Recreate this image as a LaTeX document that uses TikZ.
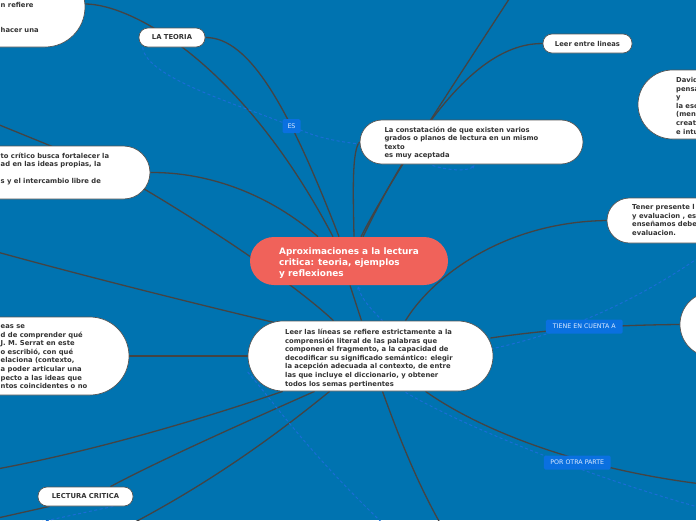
\documentclass[tikz,border=0pt]{standalone}
\usepackage{fontspec}
\setmainfont{DejaVu Sans}
\usetikzlibrary{calc,arrows.meta}
\definecolor{bgblue}{HTML}{0073B0}
\definecolor{titlered}{HTML}{F0625A}
\definecolor{linegray}{HTML}{444444}
\definecolor{edgegray}{HTML}{555555}
\definecolor{txtgray}{HTML}{333333}
\definecolor{labblue}{HTML}{0A70E0}
\definecolor{labtext}{HTML}{DDEBFF}
\definecolor{relblue}{HTML}{1A6DD6}
\newcommand\bodyf{\fontsize{6.8}{8.55}\selectfont\bfseries}
\newcommand\titlef{\fontsize{8.9}{11}\selectfont\bfseries}
\newcommand\labf{\fontsize{6.3}{7}\selectfont}
\newcommand\tstr{\rule{0pt}{6pt}}
\newcommand\ttstr{\rule{0pt}{8pt}}
\pgfdeclarelayer{bg}
\pgfdeclarelayer{lines}
\pgfsetlayers{bg,lines,main}
\begin{document}
\begin{tikzpicture}[x=1pt,y=-1pt,
  pill/.style={draw=edgegray, line width=0.7pt, fill=white, inner sep=0pt, rounded corners=#1},
  txt/.style={font=\bodyf, text=txtgray, align=left, inner sep=0pt, anchor=north west},
  lab/.style={fill=labblue, text=labtext, font=\labf, inner sep=0pt, rounded corners=1.5pt, minimum height=14pt},
  conn/.style={draw=linegray, line width=1.3pt},
  rel/.style={draw=relblue, line width=1pt, dash pattern=on 3pt off 2.5pt}]
\useasboundingbox (0,0) rectangle (696,520);
\begin{pgfonlayer}{bg}
\fill[bgblue] (0,0) rectangle (696,520);
\end{pgfonlayer}

% ---------- nodes ----------
\node[pill=24pt, fill=titlered, draw=none, minimum width=198pt, minimum height=48pt] (cen) at (349,261) {};
\node[font=\titlef, text=white, align=left, inner sep=0pt, anchor=north west] (cenT) at (279,246.3)
  {\ttstr Aproximaciones a la lectura\\critica: teoria, ejemplos\\y reflexiones};

\node[pill=35pt, minimum width=245pt, minimum height=70pt] (leer) at (370.5,356) {};
\node[txt] (leerT) at (285,328.5) {\tstr Leer las líneas se refiere estrictamente a la\\comprensión literal de las palabras que\\componen el fragmento, a la capacidad de\\decodificar su significado semántico: elegir\\la acepción adecuada al contexto, de entre\\las que incluye el diccionario, y obtener\\todos los semas pertinentes};

\node[pill=22pt, minimum width=223pt, minimum height=44pt] (const) at (471.5,142) {};
\node[txt] (constT) at (384.3,125.8) {\tstr La constatación de que existen varios\\grados o planos de lectura en un mismo\\texto\\es muy aceptada};

\node[pill=9pt, minimum width=66pt, minimum height=19pt, font=\bodyf, text=txtgray] (teoria) at (172,37.5) {LA TEORIA};
\node[pill=9pt, minimum width=89pt, minimum height=19pt, font=\bodyf, text=txtgray] (entre) at (587.5,43.5) {Leer entre lineas};
\node[pill=9pt, minimum width=95pt, minimum height=19pt, font=\bodyf, text=txtgray] (lectura) at (85.5,496.5) {LECTURA CRITICA};

\node[pill=40pt, minimum width=235pt, minimum height=80pt] (tl) at (-32.5,7) {};
\node[txt] (tlT) at (0.5,1) {\tstr n refiere\\[17.1pt]hacer una};

\node[pill=26.5pt, minimum width=300pt, minimum height=53pt] (box6) at (0,172.5) {};
\node[txt] (box6T) at (0.5,151.8) {\tstr to crítico busca fortalecer la\\ad en las ideas propias, la\\[8.55pt]s y el intercambio libre de};

\node[pill=39pt, minimum width=279pt, minimum height=78pt] (box7) at (-10.5,356) {};
\node[txt] (box7T) at (0.5,322.5) {\tstr eas se\\d de comprender qué\\J. M. Serrat en este\\o escribió, con qué\\elaciona (contexto,\\a poder articular una\\pecto a las ideas que\\ntos coincidentes o no};

\node[pill=34.5pt, minimum width=162pt, minimum height=69pt] (david) at (719,104.5) {};
\node[txt] (davidT) at (676,76.5) {\tstr David\\pensa\\y\\la esc\\(men\\creat\\e intu};

\node[pill=22.5pt, minimum width=193pt, minimum height=45pt] (tener) at (703.5,220.5) {};
\node[txt] (tenerT) at (632,203.5) {\tstr Tener presente l\\y evaluacion , es\\enseñamos debe\\evaluacion.};

\node[pill=32.5pt, minimum width=120pt, minimum height=65pt] (circ) at (740,324.5) {};

\node[lab, minimum width=18pt] (es) at (291.5,126) {ES};
\node[lab, minimum width=76.7pt] (tiene) at (584.3,326.6) {TIENE EN CUENTA A};
\node[lab, minimum width=66.7pt] (otra) at (577.3,462.5) {POR OTRA PARTE};

% ---------- free ends ----------
\coordinate (top1) at (515,-10);
\coordinate (offA) at (-30,113);
\coordinate (offB) at (-10,250);
\coordinate (offC) at (-20,472);
\coordinate (offD) at (-20,522);
\coordinate (offE) at (110,535);
\coordinate (offF) at (447,535);
\coordinate (offG) at (710,485);
\coordinate (offH) at (705,253);
\coordinate (offI) at (705,509);
\coordinate (offJ) at (395,535);
\coordinate (offK) at (40,522);

% ---------- connectors ----------
\begin{pgfonlayer}{lines}
\draw[conn] ($(tl.east)+(0,-3)$) .. controls (130,4) and (240,60) .. ($(cen.north)+(-16,0)$);
\draw[conn] (teoria.east) .. controls (250,37) and (290,110) .. ($(cen.north)+(-10,0)$);
\draw[conn] ($(cen.south)+(1,0)$) -- ($(leer.north)+(-9,0)$);
\draw[conn] ($(cen.north)+(5,0)$) .. controls (353,190) and (352,150) .. (const.west);
\draw[conn] ($(cen.north)+(12,0)$) .. controls (390,180) and (450,90) .. (top1);
\draw[conn] ($(cen.north)+(14,0)$) .. controls (420,120) and (480,43) .. (entre.west);
\draw[conn] (offA) -- ($(box6.north)+(60,4)$);
\draw[conn] (box6.east) .. controls (210,172) and (270,195) .. ($(cen.north)+(-31,0)$);
\draw[conn] ($(box6.east)+(-7,16)$) .. controls (200,222) and (290,280) .. ($(leer.north)+(-37,0)$);
\draw[conn] (offB) .. controls (80,275) and (200,305) .. ($(leer.north west)+(40,5)$);
\draw[conn] ($(leer.north)+(35,0)$) .. controls (430,280) and (500,222) .. (tener.west);
\draw[conn] (leer.west) -- (box7.east);
\draw[conn] ($(leer.south west)+(35,0)$) .. controls (200,420) and (80,455) .. (offC);
\draw[conn] ($(leer.south west)+(67,0)$) .. controls (250,420) and (160,460) .. ($(lectura.north east)+(-23,0)$);
\draw[conn] ($(lectura.south west)+(12,0)$) -- (offD);
\draw[conn] ($(leer.south west)+(82,0)$) .. controls (270,440) and (200,490) .. (offE);
\draw[conn] ($(leer.south)+(12,0)$) .. controls (400,440) and (420,490) .. (offF);
\draw[conn] ($(leer.south)+(55,0)$) .. controls (480,430) and (580,470) .. (offG);
\draw[conn] ($(leer.east)+(-3,-18)$) .. controls (560,328) and (620,325) .. (circ.west);
% relationships (dashed)
\draw[rel] ($(teoria.south west)+(4,0)$) .. controls (146,78) and (240,105) .. (es.center)
   .. controls (320,140) and (345,142) .. ($(const.west)+(-1,2)$);
\draw[rel, -{Stealth[length=3pt,width=3.5pt]}] ($(const.south)+(-39,1)$) .. controls (445,170) and (468,172) .. ($(const.south)+(3,1)$);
\draw[rel, {Stealth[length=3pt,width=3.5pt]}-] ($(cen.south)+(9,1)$) .. controls (362,300) and (372,310) .. ($(leer.north)+(12,0)$);
\draw[rel] ($(leer.east)+(-3,-7)$) .. controls (560,335) and (640,300) .. (offH);
\draw[rel] ($(leer.south)+(35,1)$) .. controls (470,430) and (600,480) .. (offI);
\draw[rel] ($(leer.west)+(0,16)$) .. controls (280,410) and (310,455) .. (offJ);
\draw[rel] ($(lectura.south east)+(-20,0)$) -- (offK);
\end{pgfonlayer}
\end{tikzpicture}
\end{document}
